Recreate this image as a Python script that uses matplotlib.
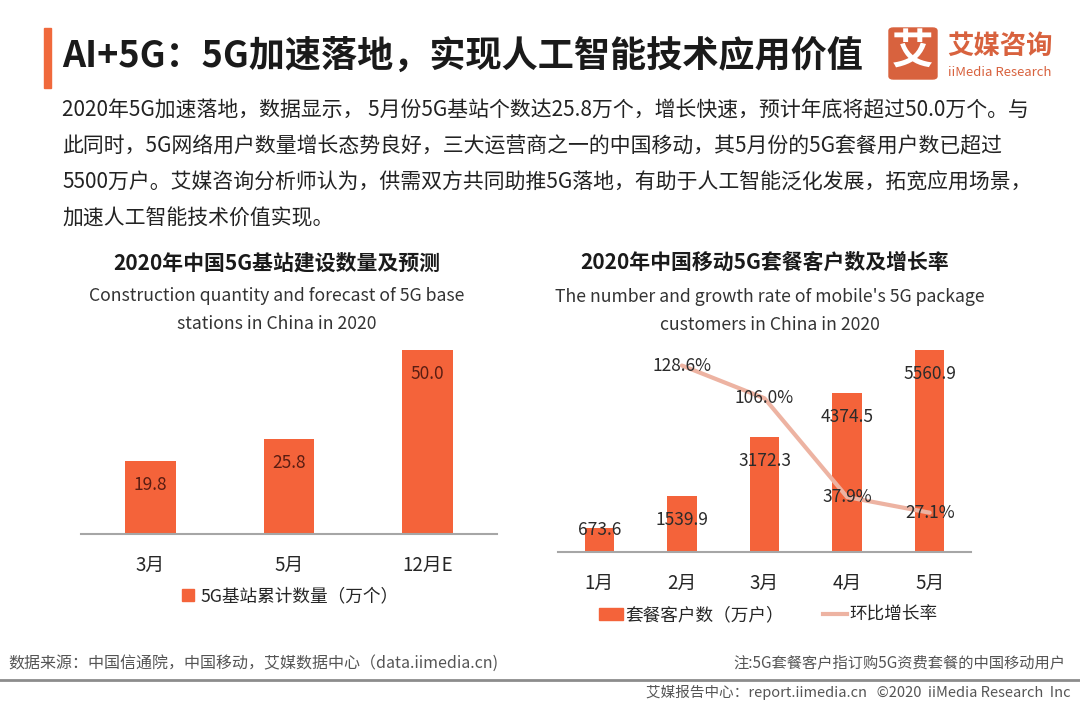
import matplotlib
matplotlib.use("Agg")
import matplotlib.pyplot as plt
from matplotlib.patches import Rectangle, FancyBboxPatch, Patch
from matplotlib.lines import Line2D

plt.rcParams['font.family'] = ['Noto Sans CJK SC', 'DejaVu Sans']

W, H = 1080, 702

title = "AI+5G：5G加速落地，实现人工智能技术应用价值"
para_lines = [
    "2020年5G加速落地，数据显示， 5月份5G基站个数达25.8万个，增长快速，预计年底将超过50.0万个。与",
    "此同时，5G网络用户数量增长态势良好，三大运营商之一的中国移动，其5月份的5G套餐用户数已超过",
    "5500万户。艾媒咨询分析师认为，供需双方共同助推5G落地，有助于人工智能泛化发展，拓宽应用场景，",
    "加速人工智能技术价值实现。",
]

# left chart
left_title = "2020年中国5G基站建设数量及预测"
left_sub = "Construction quantity and forecast of 5G base\nstations in China in 2020"
left_cats = ["3月", "5月", "12月E"]
left_vals = [19.8, 25.8, 50.0]
left_legend = "5G基站累计数量（万个）"

# right chart
right_title = "2020年中国移动5G套餐客户数及增长率"
right_sub = "The number and growth rate of mobile's 5G package\ncustomers in China in 2020"
right_cats = ["1月", "2月", "3月", "4月", "5月"]
users = [673.6, 1539.9, 3172.3, 4374.5, 5560.9]
growth_months = ["2月", "3月", "4月", "5月"]
growth = [128.6, 106.0, 37.9, 27.1]
bar_legend = "套餐客户数（万户）"
line_legend = "环比增长率"

source = "数据来源：中国信通院，中国移动，艾媒数据中心（data.iimedia.cn)"
note = "注:5G套餐客户指订购5G资费套餐的中国移动用户"
copyright_txt = "艾媒报告中心：report.iimedia.cn   ©2020  iiMedia Research  Inc"

ORANGE = '#F4633A'
LOGO = '#D8623E'
LINE = '#EDB3A2'


def fx(x):
    return x / W


def fy(y):
    return 1 - y / H


def axes_px(fig, x0, x1, y_top, y_bot):
    return fig.add_axes([fx(x0), fy(y_bot), (x1 - x0) / W, (y_bot - y_top) / H])


def style_axes(ax):
    for s in ['top', 'right', 'left']:
        ax.spines[s].set_visible(False)
    ax.spines['bottom'].set_color('#a6a6a6')
    ax.spines['bottom'].set_linewidth(1.5)
    ax.set_yticks([])
    ax.tick_params(axis='x', length=0, pad=15, labelsize=13.5, labelcolor='#262626')
    ax.patch.set_alpha(0)


fig = plt.figure(figsize=(W / 100, H / 100), dpi=100)

# header
fig.patches.append(Rectangle((fx(44), fy(88)), 7 / W, 60 / H, transform=fig.transFigure,
                             color='#F0693C'))
fig.text(fx(62), fy(56), title, fontsize=26, fontweight='bold', color='#1a1a1a', va='center')
fig.patches.append(FancyBboxPatch((fx(889), fy(79)), 48 / W, 51 / H, transform=fig.transFigure,
                                  boxstyle="round,pad=0,rounding_size=0.004", color=LOGO))
fig.text(fx(913), fy(53), "艾", fontsize=30, fontweight='bold', color='white', ha='center', va='center')
fig.text(fx(1000), fy(46), "艾媒咨询", fontsize=19, fontweight='bold', color=LOGO, ha='center', va='center')
fig.text(fx(1000), fy(72), "iiMedia Research", fontsize=9.5, color=LOGO, ha='center', va='center')

# paragraph
for i, line in enumerate(para_lines):
    fig.text(fx(62), fy(110 + 36 * i), line, fontsize=15, color='#222222', va='center')

# left chart
fig.text(fx(277), fy(263), left_title, fontsize=15, fontweight='bold', color='#1a1a1a',
         ha='center', va='center')
fig.text(fx(277), fy(310), left_sub, fontsize=12.7, color='#333333', ha='center', va='center',
         linespacing=1.7)

axl = axes_px(fig, 81, 497, 340, 534)
xl = range(len(left_cats))
axl.bar(xl, left_vals, width=0.365, color=ORANGE)
axl.set_xlim(-0.5, len(left_cats) - 0.5)
axl.set_ylim(0, 194 / 3.68)
axl.set_xticks(list(xl))
axl.set_xticklabels(left_cats)
style_axes(axl)
for x, v in zip(xl, left_vals):
    axl.annotate(f"{v:.1f}", (x, v), xytext=(0, -17.5), textcoords='offset points',
                 ha='center', va='center', fontsize=12.5, color='#5A1D12')
axl.legend(handles=[Patch(color=ORANGE, label=left_legend)], loc='center',
           bbox_to_anchor=(fx(290), fy(596)), bbox_transform=fig.transFigure,
           frameon=False, fontsize=12.7, handlelength=0.7, handleheight=0.7,
           handletextpad=0.35, labelcolor='#262626')

# right chart
fig.text(fx(765), fy(262), right_title, fontsize=15, fontweight='bold', color='#1a1a1a',
         ha='center', va='center')
fig.text(fx(770), fy(311), right_sub, fontsize=12.7, color='#333333', ha='center', va='center',
         linespacing=1.7)

axr = axes_px(fig, 558, 971, 340, 552)
xr = list(range(len(right_cats)))
axr.bar(xr, users, width=0.355, color=ORANGE)
axr.set_xlim(-0.5, len(right_cats) - 0.5)
bar_scale = 5560.9 / 202
axr.set_ylim(0, 212 * bar_scale)
axr.set_xticks(xr)
axr.set_xticklabels(right_cats)
style_axes(axr)
for x, v in zip(xr, users):
    h_px = v / bar_scale
    off = -17.5 if h_px > 40 else -2
    axr.annotate(f"{v:.1f}", (x, v), xytext=(0, off), textcoords='offset points',
                 ha='center', va='center', fontsize=12.5, color='#2b2b2b')

axr2 = axr.twinx()
gx = [right_cats.index(m) for m in growth_months]
axr2.plot(gx, growth, color=LINE, lw=3, solid_capstyle='round')
axr2.set_ylim(0, 212 / 1.45)
axr2.set_yticks([])
for s in ['top', 'right', 'left', 'bottom']:
    axr2.spines[s].set_visible(False)
for x, v in zip(gx, growth):
    axr2.text(x, v, f"{v:.1f}%", ha='center', va='center', fontsize=12.5, color='#2b2b2b')

axr.legend(handles=[Patch(color=ORANGE, label=bar_legend),
                    Line2D([], [], color=LINE, lw=3, label=line_legend)],
           loc='center', ncol=2, bbox_to_anchor=(fx(768), fy(615)),
           bbox_transform=fig.transFigure, frameon=False, fontsize=12.7,
           handlelength=1.4, handleheight=0.7, handletextpad=0.1,
           columnspacing=2.2, labelcolor='#262626')

# footer
fig.add_artist(Line2D([0, 1], [fy(680), fy(680)], transform=fig.transFigure,
                      color='#8c8c8c', lw=2))
fig.text(fx(8), fy(663), source, fontsize=11.5, color='#555555', va='center')
fig.text(fx(1065), fy(663), note, fontsize=11, color='#555555', va='center', ha='right')
fig.text(fx(1070), fy(692), copyright_txt, fontsize=10.5, color='#555555', va='center', ha='right')

fig.savefig("out.png", dpi=100)
